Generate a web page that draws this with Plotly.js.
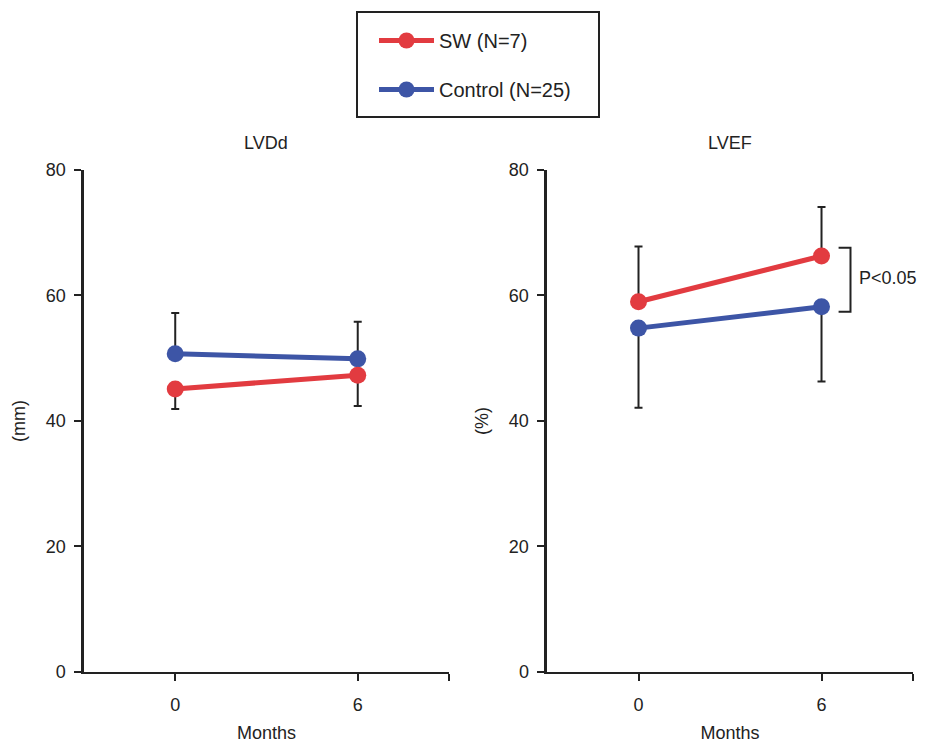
<!DOCTYPE html>
<html>
<head>
<meta charset="utf-8">
<script src="https://cdn.plot.ly/plotly-3.0.1.min.js"></script>
<style>html,body{margin:0;padding:0;background:#fff;}#chart{width:929px;height:743px;}</style>
</head>
<body>
<div id="chart"></div>
<script>
// Data
const months = [0, 6];
const seriesNames = ["SW (N=7)", "Control (N=25)"];
const panelTitles = ["LVDd", "LVEF"];
const yTitles = ["(mm)", "(%)"];
const xTitle = "Months";
const xTickVals = [0, 6, 9];
const xTickText = ["0", "6", ""];
const yTickVals = [0, 20, 40, 60, 80];

// LVDd (mm)
const swLVDd = [45.1, 47.3];
const swLVDdErrMinus = [3.2, 4.9];
const ctrlLVDd = [50.7, 49.9];
const ctrlLVDdErrPlus = [6.5, 5.9];

// LVEF (%)
const swLVEF = [59.0, 66.3];
const swLVEFErrPlus = [8.8, 7.8];
const ctrlLVEF = [54.8, 58.2];
const ctrlLVEFErrMinus = [12.7, 11.9];

const pLabel = "P&lt;0.05";

const RED = "#e23b40";
const BLUE = "#3d55a6";
const INK = "#222222";
const FAMILY = "Liberation Sans, Arial, sans-serif";

function errUp(arr) {
  return {type: "data", symmetric: false, array: arr, arrayminus: arr.map(() => 0),
          color: INK, thickness: 2, width: 4};
}
function errDown(arr) {
  return {type: "data", symmetric: false, array: arr.map(() => 0), arrayminus: arr,
          color: INK, thickness: 2, width: 4};
}

function trace(x, y, name, color, err, xa, ya, showlegend, rank) {
  return {
    x: x, y: y, name: name, type: "scatter", mode: "lines+markers",
    line: {color: color, width: 5},
    marker: {color: color, size: 17},
    error_y: err,
    xaxis: xa, yaxis: ya,
    showlegend: showlegend,
    legendgroup: name,
    legendrank: rank,
    cliponaxis: false
  };
}

const data = [
  trace(months, ctrlLVDd, seriesNames[1], BLUE, errUp(ctrlLVDdErrPlus), "x", "y", true, 2),
  trace(months, swLVDd, seriesNames[0], RED, errDown(swLVDdErrMinus), "x", "y", true, 1),
  trace(months, ctrlLVEF, seriesNames[1], BLUE, errDown(ctrlLVEFErrMinus), "x2", "y2", false, 2),
  trace(months, swLVEF, seriesNames[0], RED, errUp(swLVEFErrPlus), "x2", "y2", false, 1)
];

const tickFont = {family: FAMILY, size: 18, color: INK};

function xAxis(domain, anchor) {
  return {
    domain: domain, anchor: anchor, range: [-3, 9],
    tickmode: "array", tickvals: xTickVals, ticktext: xTickText,
    ticks: "outside", ticklen: 7, tickwidth: 2, tickcolor: INK,
    ticklabelstandoff: 8,
    showline: true, linecolor: INK, linewidth: 2.5,
    showgrid: false, zeroline: false,
    tickfont: tickFont,
    title: {text: xTitle, font: tickFont, standoff: 20}
  };
}
function yAxis(domain, anchor, title) {
  return {
    domain: domain, anchor: anchor, range: [0, 80],
    tickmode: "array", tickvals: yTickVals,
    ticks: "outside", ticklen: 7, tickwidth: 2, tickcolor: INK,
    ticklabelstandoff: 5,
    showline: true, linecolor: INK, linewidth: 2.5,
    showgrid: false, zeroline: false,
    tickfont: tickFont,
    title: {text: title, font: tickFont, standoff: 16}
  };
}

const yDom = [0.0956, 0.7712];

const layout = {
  width: 929, height: 743,
  margin: {l: 0, r: 0, t: 0, b: 0},
  paper_bgcolor: "#ffffff", plot_bgcolor: "#ffffff",
  font: tickFont,
  xaxis: xAxis([0.0904, 0.4833], "y"),
  yaxis: yAxis(yDom, "x", yTitles[0]),
  xaxis2: xAxis([0.5888, 0.9828], "y2"),
  yaxis2: yAxis(yDom, "x2", yTitles[1]),
  showlegend: true,
  legend: {
    x: 374 / 929, y: (743 - 21) / 743, xanchor: "left", yanchor: "top",
    borderwidth: 0, bgcolor: "rgba(0,0,0,0)",
    traceorder: "grouped", tracegroupgap: 20,
    itemwidth: 55,
    font: {family: FAMILY, size: 20, color: INK}
  },
  annotations: [
    {text: panelTitles[0], xref: "x domain", yref: "paper", x: 0.5, y: (743 - 143) / 743,
     showarrow: false, font: tickFont, xanchor: "center", yanchor: "middle"},
    {text: panelTitles[1], xref: "x2 domain", yref: "paper", x: 0.5, y: (743 - 143) / 743,
     showarrow: false, font: tickFont, xanchor: "center", yanchor: "middle"},
    {text: pLabel, xref: "x2", yref: "y2", x: 7.15, y: (swLVEF[1] + ctrlLVEF[1]) / 2 + 0.6,
     showarrow: false, xanchor: "left", yanchor: "middle", font: tickFont}
  ],
  shapes: [
    {type: "rect", xref: "paper", yref: "paper",
     x0: 357 / 929, x1: 599 / 929, y0: (743 - 117) / 743, y1: (743 - 12) / 743,
     line: {color: INK, width: 2}},
    {type: "path", xref: "x2", yref: "y2",
     path: "M 6.56 67.6 L 6.95 67.6 L 6.95 57.4 L 6.56 57.4",
     line: {color: INK, width: 2}}
  ]
};

Plotly.newPlot("chart", data, layout, {displayModeBar: false, staticPlot: true});
</script>
</body>
</html>
